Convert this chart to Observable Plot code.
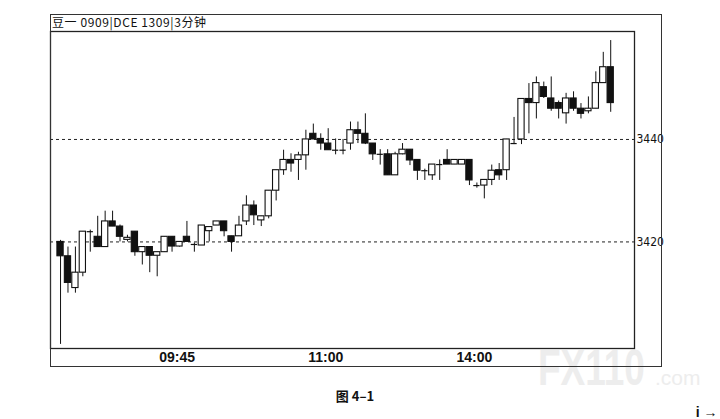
<!DOCTYPE html>
<html><head><meta charset="utf-8">
<script src="https://cdn.jsdelivr.net/npm/d3@7"></script>
<script src="https://cdn.jsdelivr.net/npm/@observablehq/plot@0.6"></script>
<style>
html,body{margin:0;padding:0;background:#fff;overflow:hidden;}
#chart{width:720px;height:419px;}
</style>
</head><body><div id="chart"></div>
<script>
const title = "豆一 0909|DCE 1309|3分钟";
const caption = "图 4–1";
const watermarkMain = "FX110";
const watermarkSub = ".com";

const openP = [3420,3417.2,3411,3414,3422,3421,3419,3424,3423,3420.4,3422,3418,3419,3417.3,3418,3421,3419.1,3421,3419.5,3419.3,3422.1,3423.2,3424,3421.1,3421.1,3424,3427.1,3424.2,3425,3430,3434,3436,3436,3436.9,3441.1,3440.1,3439.2,3437.9,3437.9,3439.2,3441.8,3441.1,3439.2,3437.1,3437.1,3433,3437.1,3438,3436,3433.9,3433,3435.1,3436,3435.1,3435.1,3436,3431,3431,3432.1,3434,3434,3439.2,3440,3447.9,3447.1,3450.2,3448,3447.1,3445.1,3448,3446,3445.5,3446,3451,3454.1];
const highP = [3420.3,3419,3419,3422,3422.3,3425,3426,3426,3423.3,3421.3,3422,3419,3419,3418,3421,3421,3420,3424,3419.8,3423.2,3422.9,3424,3424,3421.1,3425,3429,3428,3425,3430,3434,3437.9,3437.2,3437.5,3441.8,3443,3441.1,3442.1,3440.1,3440,3443.4,3443.4,3445,3439.2,3438,3438,3437.5,3439.2,3438,3436,3434.2,3435.1,3436,3438,3436,3436,3436,3431.5,3432.1,3435,3435.3,3440,3444.3,3447.9,3450.9,3452.2,3451.2,3452.2,3447.5,3449,3449.3,3447,3448.3,3453.2,3457,3459.3];
const lowP = [3400,3410,3410,3413.2,3418,3419,3419,3423,3420,3420,3417.2,3415.5,3414,3413.2,3418,3418,3419,3420,3418,3419.3,3420,3423.2,3421,3418,3421.1,3423.2,3423.2,3423,3424.5,3428,3433,3433.6,3432,3434,3440,3437.9,3437.9,3437,3437,3437.9,3439.2,3439,3435.9,3435,3433,3433,3437,3434.9,3432,3432,3432,3432,3435.1,3435.1,3435.1,3431,3430.5,3428.4,3431,3432,3432,3439,3439,3441.1,3444,3448,3445.5,3444,3443,3445.5,3444,3445,3446,3451,3445.3];
const closeP = [3417.2,3412,3414,3422,3422,3419,3424,3423,3421,3420.8,3418,3419,3417.3,3418,3421,3419.1,3420,3420,3419.5,3423.2,3422.9,3424,3422.1,3420,3423.2,3427.1,3425.2,3425,3430,3434,3436,3435.3,3436.9,3440,3440,3439.2,3437.9,3437.9,3437.9,3441.8,3441.1,3439.2,3437.1,3437.1,3433,3437.1,3438,3435.9,3433.9,3433.9,3435.1,3435.1,3435.1,3436,3436,3432,3431,3432.1,3433.9,3433,3440,3439.2,3447.9,3447.1,3451,3448.3,3446,3446,3448,3446,3445,3446,3451,3454.1,3447.1];

const tickIndex = [15, 35, 55];
const tickLabels = ["09:45", "11:00", "14:00"];
const gridPrices = [3420, 3440];

const bars = openP.map((o, i) => ({i, open: o, high: highP[i], low: lowP[i], close: closeP[i]}));
const halfW = 0.42;
const upBars = bars.filter(d => d.close - d.open >= 0.25);
const downBars = bars.filter(d => d.open - d.close >= 0.25);
const dojiBars = bars.filter(d => Math.abs(d.close - d.open) < 0.25);

const narrow = "'Liberation Sans Narrow','DejaVu Sans Condensed','Liberation Sans',Arial,sans-serif";

const chart = Plot.plot({
  width: 720, height: 419,
  marginLeft: 50, marginRight: 86, marginTop: 31, marginBottom: 71,
  x: {domain: [-1.35, 77.2], axis: null},
  y: {domain: [3399.2, 3461.07], axis: null},
  style: {background: "#fff", color: "#111", fontFamily: "'Liberation Sans',Arial,sans-serif", overflow: "hidden"},
  marks: [
    Plot.ruleY(gridPrices, {stroke: "#222", strokeWidth: 1, strokeDasharray: "3,3"}),
    Plot.ruleX(bars, {x: "i", y1: "low", y2: "high", stroke: "#111", strokeWidth: 1}),
    Plot.rect(upBars, {x1: d => d.i - halfW, x2: d => d.i + halfW, y1: "open", y2: "close", fill: "#fff", stroke: "#111", strokeWidth: 1.1}),
    Plot.rect(downBars, {x1: d => d.i - halfW, x2: d => d.i + halfW, y1: "open", y2: "close", fill: "#111", stroke: "#111", strokeWidth: 1.1}),
    Plot.ruleY(dojiBars, {x1: d => d.i - halfW, x2: d => d.i + halfW, y: "close", stroke: "#111", strokeWidth: 1.2}),
    Plot.frame({stroke: "#222", strokeWidth: 1.3}),
    Plot.axisY(gridPrices, {anchor: "right", tickSize: 0, tickPadding: 2, fontSize: 12, fontFamily: narrow, tickFormat: d => String(d), fill: "#111"}),
    Plot.axisX(tickIndex, {anchor: "bottom", tickSize: 0, tickPadding: 4, dx: 5, fontSize: 14, fontWeight: "bold", fill: "#111",
      tickFormat: d => tickLabels[tickIndex.indexOf(d)]})
  ]
});

const svg = d3.select(chart);
// watermark behind everything
const wm = svg.insert("g", ":first-child");
wm.append("g").attr("transform", "translate(538,385) scale(1,1.35)")
  .append("text").attr("x", 0).attr("y", 0).attr("text-anchor", "start").attr("font-size", 37).attr("font-weight", "bold")
  .attr("font-family", "'Liberation Sans',Arial,sans-serif").attr("fill", "#ededed").text(watermarkMain);
wm.append("text").attr("x", 655).attr("y", 385).attr("text-anchor", "start").attr("font-size", 21)
  .attr("font-family", "'Liberation Sans',Arial,sans-serif").attr("fill", "#ededed").text(watermarkSub);
svg.insert("rect", ":first-child").attr("width", 720).attr("height", 419).attr("fill", "#fff");

// outer window frame and title bar
svg.append("rect").attr("x", 50.5).attr("y", 14.5).attr("width", 611).attr("height", 352)
  .attr("fill", "none").attr("stroke", "#333").attr("stroke-width", 1);
svg.append("text").attr("x", 52).attr("y", 27).attr("text-anchor", "start").attr("font-size", 12)
  .attr("textLength", 154).attr("lengthAdjust", "spacing")
  .attr("font-family", "'Noto Sans CJK SC','Liberation Sans',sans-serif").attr("fill", "#111").text(title);
svg.append("text").attr("x", 355).attr("y", 401).attr("text-anchor", "middle").attr("font-size", 13).attr("font-weight", "bold")
  .attr("font-family", "'Noto Sans CJK SC','Liberation Sans',sans-serif").attr("fill", "#111").text(caption);

document.getElementById("chart").appendChild(chart);
</script>
</body></html>
